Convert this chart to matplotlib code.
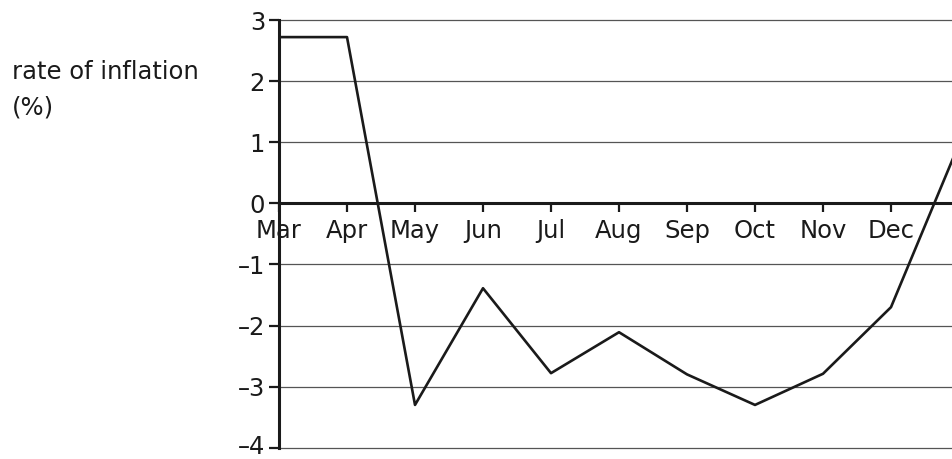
import matplotlib.pyplot as plt
import matplotlib.transforms as mtransforms

months = ['Mar', 'Apr', 'May', 'Jun', 'Jul', 'Aug', 'Sep', 'Oct', 'Nov', 'Dec']
# last value is the start of the next month (Jan), cut off at the right edge
rate = [2.72, 2.72, -3.30, -1.39, -2.78, -2.11, -2.80, -3.30, -2.79, -1.70, 0.97]
y_ticks = [-4, -3, -2, -1, 0, 1, 2, 3]

plt.rcParams['font.family'] = ['DejaVu Sans']

fig = plt.figure(figsize=(9.53, 4.59), dpi=100)
ax = fig.add_axes([279 / 953, 1 - 447.7 / 459, 1 - 279 / 953, (447.7 - 20) / 459])

x = list(range(len(rate)))
ax.plot(x, rate, color='#1a1a1a', lw=1.9, zorder=3)

for v in y_ticks:
    if v != 0:
        ax.axhline(v, color='#555555', lw=0.9, zorder=1, clip_on=False)

ax.set_xlim(0, (953 - 279) / 68)
ax.set_ylim(-4, 3)

for s in ['top', 'right']:
    ax.spines[s].set_visible(False)
ax.spines['left'].set_linewidth(2.2)
ax.spines['left'].set_color('#1a1a1a')
ax.spines['bottom'].set_position(('data', 0))
ax.spines['bottom'].set_linewidth(2.2)
ax.spines['bottom'].set_color('#1a1a1a')

ax.set_xticks(range(len(months)))
ax.set_xticklabels(months)
ax.set_yticks(y_ticks)
ax.set_yticklabels([str(v).replace('-', '\u2013') for v in y_ticks])

ax.tick_params(axis='x', direction='out', length=6.5, width=1.6, color='#1a1a1a',
               labelsize=17.5, pad=5, labelcolor='#1a1a1a')
ax.tick_params(axis='y', direction='out', length=7, width=1.6, color='#1a1a1a',
               labelsize=17.5, pad=3, labelcolor='#1a1a1a')

# keep the bottom label inside the picture
low = ax.get_yticklabels()[0]
low.set_transform(low.get_transform() + mtransforms.ScaledTranslation(0, 3 / 100, fig.dpi_scale_trans))

fig.text(12 / 953, 1 - 60 / 459, 'rate of inflation\n(%)', fontsize=17.5,
         color='#1a1a1a', ha='left', va='top', linespacing=1.6)

fig.savefig('out.png', dpi=100)
